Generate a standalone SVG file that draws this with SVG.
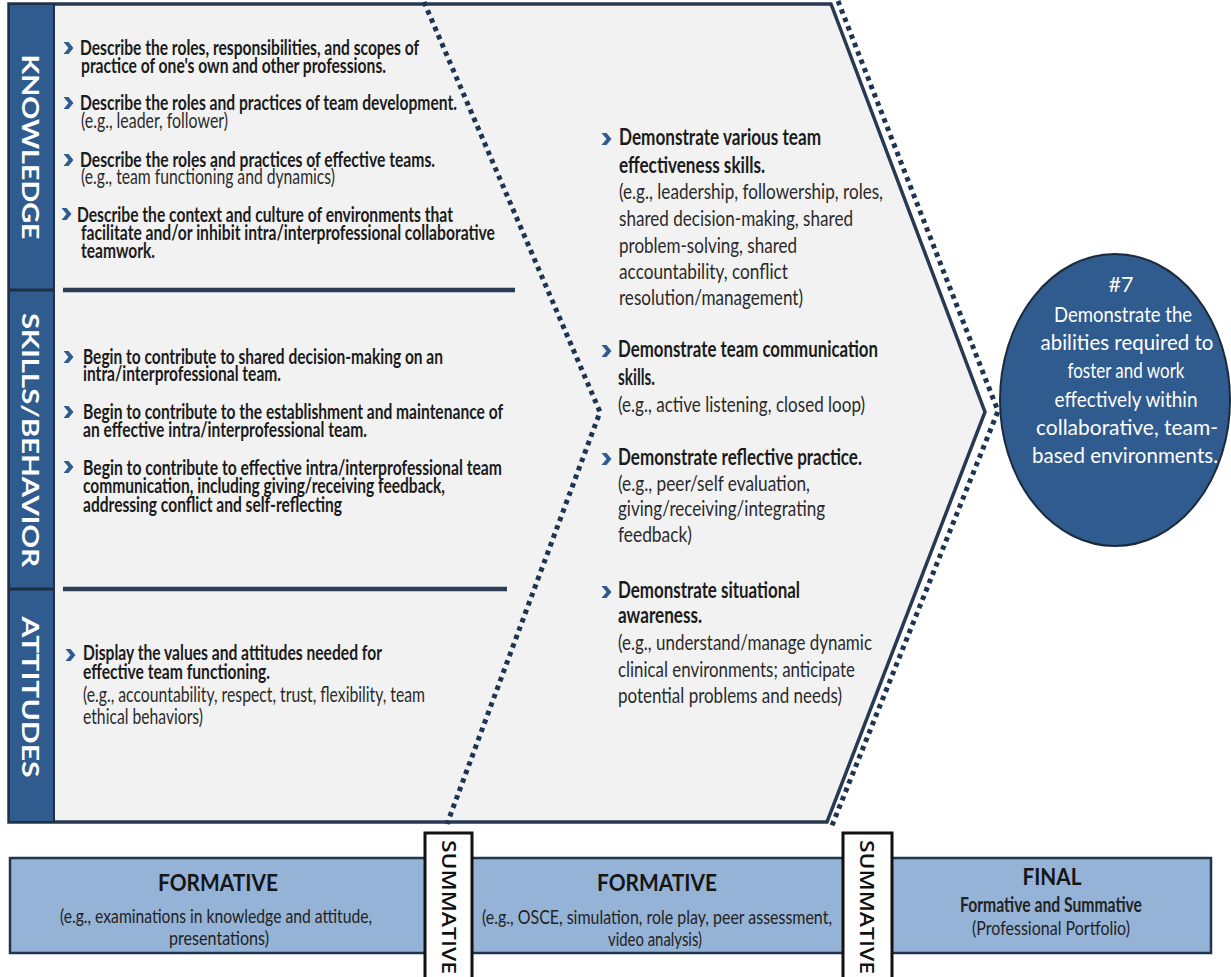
<svg xmlns="http://www.w3.org/2000/svg" width="1231" height="977" viewBox="0 0 1231 977">
  <style>
    .st { font-family: Lato, "Liberation Sans", sans-serif; font-size: 21px; font-weight: 700; fill: #1b1b1b; }
    .ex { font-family: Lato, "Liberation Sans", sans-serif; font-size: 21px; font-weight: 400; fill: #2a2a2a; }
    .mst { font-family: Lato, "Liberation Sans", sans-serif; font-size: 22px; font-weight: 700; fill: #1b1b1b; }
    .mex { font-family: Lato, "Liberation Sans", sans-serif; font-size: 22px; font-weight: 400; fill: #2a2a2a; }
    .side { font-family: Lato, "Liberation Sans", sans-serif; font-size: 22px; font-weight: 700; fill: #ffffff; }
    .goal { font-family: Lato, "Liberation Sans", sans-serif; font-size: 22px; font-weight: 400; fill: #ffffff; text-anchor: middle; }
    .hd { font-family: Lato, "Liberation Sans", sans-serif; font-size: 23px; font-weight: 700; fill: #161616; text-anchor: middle; }
    .sub { font-family: Lato, "Liberation Sans", sans-serif; font-size: 20px; font-weight: 400; fill: #222222; text-anchor: middle; }
    .subb { font-family: Lato, "Liberation Sans", sans-serif; font-size: 20px; font-weight: 700; fill: #222222; text-anchor: middle; }
    .summ { font-family: "Open Sans", "Liberation Sans", sans-serif; font-size: 20px; font-weight: 600; fill: #111111; text-anchor: middle; }
    .div { stroke: #2a3d55; stroke-width: 4.5; }
    .dots { fill: none; stroke: #1e3552; stroke-width: 5; stroke-dasharray: 4.5 4.5; }
    .sbox { fill: #ffffff; stroke: #111111; stroke-width: 3; }
  </style>
  <defs>
    <path id="bul" d="M-4.5,-6 L0.5,-6 L5.5,0 L0.5,6 L-4.5,6 L0.5,0 Z" fill="#2f5b8e"/>
  </defs>

  <rect width="1231" height="977" fill="#ffffff"/>

  <!-- main chevron panel with the side label bar -->
  <g id="panel">
    <polygon points="9,4 831,4 985,412 827,822 9,822" fill="#f2f2f2" stroke="#273a51" stroke-width="3.5" stroke-linejoin="miter"/>
    <rect x="9" y="4" width="45" height="818" fill="#2f5b8e" stroke="#1f3147" stroke-width="2"/>
    <line x1="9" y1="290" x2="54" y2="290" stroke="#1d2f45" stroke-width="3"/>
    <line x1="9" y1="589" x2="54" y2="589" stroke="#1d2f45" stroke-width="3"/>
    <line class="div" x1="63" y1="290" x2="515" y2="290"/>
    <line class="div" x1="63" y1="589" x2="507" y2="589"/>
  </g>

  <!-- dotted stage boundaries -->
  <g id="connectors">
    <polyline class="dots" points="424,2 600,412 447,824"/>
    <polyline class="dots" points="838,1 998,411 831,828"/>
  </g>

  <g id="knowledge">
    <text class="side" transform="translate(22,147) rotate(90)" text-anchor="middle" textLength="185" lengthAdjust="spacingAndGlyphs">KNOWLEDGE</text>
    <use href="#bul" x="68" y="48"/>
    <text class="st" x="80" y="55" textLength="339" lengthAdjust="spacingAndGlyphs">Describe the roles, responsibilities, and scopes of</text>
    <text class="st" x="81" y="73" textLength="305" lengthAdjust="spacingAndGlyphs">practice of one's own and other professions.</text>
    <use href="#bul" x="68" y="103"/>
    <text class="st" x="80" y="110" textLength="377" lengthAdjust="spacingAndGlyphs">Describe the roles and practices of team development.</text>
    <text class="ex" x="81" y="128" textLength="147" lengthAdjust="spacingAndGlyphs">(e.g., leader, follower)</text>
    <use href="#bul" x="68" y="160"/>
    <text class="st" x="80" y="167" textLength="355" lengthAdjust="spacingAndGlyphs">Describe the roles and practices of effective teams.</text>
    <text class="ex" x="81" y="184" textLength="254" lengthAdjust="spacingAndGlyphs">(e.g., team functioning and dynamics)</text>
    <use href="#bul" x="66" y="214"/>
    <text class="st" x="77" y="222" textLength="376" lengthAdjust="spacingAndGlyphs">Describe the context and culture of environments that</text>
    <text class="st" x="81" y="240" textLength="414" lengthAdjust="spacingAndGlyphs">facilitate and/or inhibit intra/interprofessional collaborative</text>
    <text class="st" x="81" y="258" textLength="74" lengthAdjust="spacingAndGlyphs">teamwork.</text>
  </g>

  <g id="skills-behavior">
    <text class="side" transform="translate(22,440) rotate(90)" text-anchor="middle" textLength="254" lengthAdjust="spacingAndGlyphs">SKILLS/BEHAVIOR</text>
    <use href="#bul" x="68" y="357"/>
    <text class="st" x="83" y="364" textLength="360" lengthAdjust="spacingAndGlyphs">Begin to contribute to shared decision-making on an</text>
    <text class="st" x="83" y="381" textLength="198" lengthAdjust="spacingAndGlyphs">intra/interprofessional team.</text>
    <use href="#bul" x="68" y="412"/>
    <text class="st" x="83" y="419" textLength="420" lengthAdjust="spacingAndGlyphs">Begin to contribute to the establishment and maintenance of</text>
    <text class="st" x="83" y="437" textLength="284" lengthAdjust="spacingAndGlyphs">an effective intra/interprofessional team.</text>
    <use href="#bul" x="68" y="467"/>
    <text class="st" x="83" y="475" textLength="419" lengthAdjust="spacingAndGlyphs">Begin to contribute to effective intra/interprofessional team</text>
    <text class="st" x="83" y="493" textLength="362" lengthAdjust="spacingAndGlyphs">communication, including giving/receiving feedback,</text>
    <text class="st" x="83" y="512" textLength="259" lengthAdjust="spacingAndGlyphs">addressing conflict and self-reflecting</text>
  </g>

  <g id="attitudes">
    <text class="side" transform="translate(22,697) rotate(90)" text-anchor="middle" textLength="161" lengthAdjust="spacingAndGlyphs">ATTITUDES</text>
    <use href="#bul" x="70" y="655"/>
    <text class="st" x="83" y="660" textLength="299" lengthAdjust="spacingAndGlyphs">Display the values and attitudes needed for</text>
    <text class="st" x="83" y="679" textLength="187" lengthAdjust="spacingAndGlyphs">effective team functioning.</text>
    <text class="ex" x="83" y="702" textLength="342" lengthAdjust="spacingAndGlyphs">(e.g., accountability, respect, trust, flexibility, team</text>
    <text class="ex" x="83" y="724" textLength="120" lengthAdjust="spacingAndGlyphs">ethical behaviors)</text>
  </g>

  <g id="demonstrate">
    <use href="#bul" x="606" y="139"/>
    <text class="mst" x="619" y="145" textLength="202" lengthAdjust="spacingAndGlyphs">Demonstrate various team</text>
    <text class="mst" x="619" y="173" textLength="146" lengthAdjust="spacingAndGlyphs">effectiveness skills.</text>
    <text class="mex" x="619" y="199" textLength="264" lengthAdjust="spacingAndGlyphs">(e.g., leadership, followership, roles,</text>
    <text class="mex" x="619" y="226" textLength="234" lengthAdjust="spacingAndGlyphs">shared decision-making, shared</text>
    <text class="mex" x="619" y="253" textLength="178" lengthAdjust="spacingAndGlyphs">problem-solving, shared</text>
    <text class="mex" x="619" y="279" textLength="169" lengthAdjust="spacingAndGlyphs">accountability, conflict</text>
    <text class="mex" x="619" y="305" textLength="184" lengthAdjust="spacingAndGlyphs">resolution/management)</text>

    <use href="#bul" x="606" y="351"/>
    <text class="mst" x="618" y="357" textLength="260" lengthAdjust="spacingAndGlyphs">Demonstrate team communication</text>
    <text class="mst" x="618" y="385" textLength="37" lengthAdjust="spacingAndGlyphs">skills.</text>
    <text class="mex" x="618" y="412" textLength="247" lengthAdjust="spacingAndGlyphs">(e.g., active listening, closed loop)</text>

    <use href="#bul" x="606" y="459"/>
    <text class="mst" x="618" y="465" textLength="244" lengthAdjust="spacingAndGlyphs">Demonstrate reflective practice.</text>
    <text class="mex" x="618" y="491" textLength="192" lengthAdjust="spacingAndGlyphs">(e.g., peer/self evaluation,</text>
    <text class="mex" x="618" y="516" textLength="207" lengthAdjust="spacingAndGlyphs">giving/receiving/integrating</text>
    <text class="mex" x="618" y="542" textLength="74" lengthAdjust="spacingAndGlyphs">feedback)</text>

    <use href="#bul" x="606" y="592"/>
    <text class="mst" x="618" y="598" textLength="182" lengthAdjust="spacingAndGlyphs">Demonstrate situational</text>
    <text class="mst" x="618" y="623" textLength="84" lengthAdjust="spacingAndGlyphs">awareness.</text>
    <text class="mex" x="618" y="650" textLength="254" lengthAdjust="spacingAndGlyphs">(e.g., understand/manage dynamic</text>
    <text class="mex" x="618" y="677" textLength="237" lengthAdjust="spacingAndGlyphs">clinical environments; anticipate</text>
    <text class="mex" x="618" y="703" textLength="224" lengthAdjust="spacingAndGlyphs">potential problems and needs)</text>
  </g>

  <g id="goal-7">
    <ellipse cx="1115" cy="400" rx="115" ry="146" fill="#2f5b8e" stroke="#1c2b3c" stroke-width="2"/>
    <text class="goal" x="1121" y="292" font-weight="700" textLength="25" lengthAdjust="spacingAndGlyphs">#7</text>
    <text class="goal" x="1123" y="322" textLength="138" lengthAdjust="spacingAndGlyphs">Demonstrate the</text>
    <text class="goal" x="1127" y="350" textLength="173" lengthAdjust="spacingAndGlyphs">abilities required to</text>
    <text class="goal" x="1126" y="378" textLength="117" lengthAdjust="spacingAndGlyphs">foster and work</text>
    <text class="goal" x="1126" y="407" textLength="143" lengthAdjust="spacingAndGlyphs">effectively within</text>
    <text class="goal" x="1127" y="435" textLength="182" lengthAdjust="spacingAndGlyphs">collaborative, team-</text>
    <text class="goal" x="1125" y="463" textLength="186" lengthAdjust="spacingAndGlyphs">based environments.</text>
  </g>

  <g id="assessment">
    <rect x="10" y="858" width="1201" height="95" fill="#95b3d7" stroke="#1f3550" stroke-width="2.5"/>
    <g id="formative-1">
      <text class="hd" x="218" y="891" textLength="120" lengthAdjust="spacingAndGlyphs">FORMATIVE</text>
      <text class="sub" x="216" y="923" textLength="312" lengthAdjust="spacingAndGlyphs">(e.g., examinations in knowledge and attitude,</text>
      <text class="sub" x="219" y="945" textLength="100" lengthAdjust="spacingAndGlyphs">presentations)</text>
    </g>
    <g id="formative-2">
      <text class="hd" x="657" y="891" textLength="120" lengthAdjust="spacingAndGlyphs">FORMATIVE</text>
      <text class="sub" x="657" y="924" textLength="350" lengthAdjust="spacingAndGlyphs">(e.g., OSCE, simulation, role play, peer assessment,</text>
      <text class="sub" x="655" y="946" textLength="94" lengthAdjust="spacingAndGlyphs">video analysis)</text>
    </g>
    <g id="final">
      <text class="hd" x="1052" y="885" font-size="22" textLength="59" lengthAdjust="spacingAndGlyphs">FINAL</text>
      <text class="subb" x="1051" y="912" textLength="182" lengthAdjust="spacingAndGlyphs">Formative and Summative</text>
      <text class="sub" x="1051" y="935" textLength="158" lengthAdjust="spacingAndGlyphs">(Professional Portfolio)</text>
    </g>
    <g id="summative-1">
      <rect class="sbox" x="425" y="833" width="47" height="150"/>
      <text class="summ" transform="translate(442,907) rotate(90)" textLength="134" lengthAdjust="spacingAndGlyphs">SUMMATIVE</text>
    </g>
    <g id="summative-2">
      <rect class="sbox" x="843" y="833" width="49" height="150"/>
      <text class="summ" transform="translate(860,907) rotate(90)" textLength="134" lengthAdjust="spacingAndGlyphs">SUMMATIVE</text>
    </g>
  </g>
</svg>
